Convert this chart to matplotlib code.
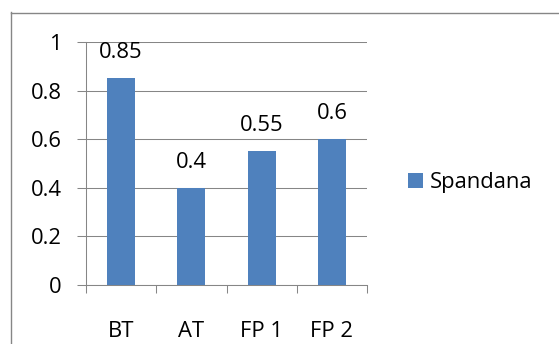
import matplotlib
matplotlib.use("Agg")
import matplotlib.pyplot as plt
from matplotlib.lines import Line2D
import numpy as np

categories = ["BT", "AT", "FP 1", "FP 2"]
values = [0.85, 0.4, 0.55, 0.6]
series_name = "Spandana"
y_ticks = [0, 0.2, 0.4, 0.6, 0.8, 1]
y_tick_labels = ["0", "0.2", "0.4", "0.6", "0.8", "1"]

plt.rcParams["font.family"] = ["Open Sans", "DejaVu Sans"]

W, H = 559, 344
fig = plt.figure(figsize=(W / 100, H / 100), dpi=100)
fig.patch.set_facecolor("white")

gray = "#868686"
bar_color = "#4F81BD"
fs = 15.8

left, right, top, bottom = 86, 367, 42, 285
ax = fig.add_axes([left / W, 1 - bottom / H, (right - left) / W, (bottom - top) / H])

x = np.arange(len(categories))
bars = ax.bar(x, values, width=0.4, color=bar_color, label=series_name, zorder=3)

ax.set_xlim(-0.5, len(categories) - 0.5)
ax.set_ylim(0, 1)
ax.set_yticks(y_ticks)
ax.set_yticklabels(y_tick_labels, fontsize=fs)
ax.set_xticks(x)
ax.set_xticklabels(categories, fontsize=fs)
ax.tick_params(axis="x", length=0, pad=26)
ax.tick_params(axis="y", length=6.5, width=0.75, color=gray, pad=11)

# category boundary ticks below the x axis
ax.set_xticks(np.arange(len(categories) + 1) - 0.5, minor=True)
ax.tick_params(axis="x", which="minor", length=6, width=0.75, color=gray)

ax.grid(axis="y", color=gray, linewidth=0.75, zorder=0)
for side in ["top", "right"]:
    ax.spines[side].set_visible(False)
for side in ["left", "bottom"]:
    ax.spines[side].set_color(gray)
    ax.spines[side].set_linewidth(0.75)

for b, v in zip(bars, values):
    ax.annotate(f"{v:g}", (b.get_x() + b.get_width() / 2, v),
                xytext=(0, 14.5), textcoords="offset points",
                ha="center", va="baseline", fontsize=fs)

fig.legend(handles=[bars], labels=[series_name], loc="center left",
           bbox_to_anchor=(408 / W, 1 - 183 / H), frameon=False,
           fontsize=fs, handlelength=0.7, handleheight=0.7,
           handletextpad=0.3, borderaxespad=0, borderpad=0)

# outer chart border (left and top edges)
fig.add_artist(Line2D([10.5 / W, 10.5 / W], [0, 1 - 12 / H], color=gray,
                      linewidth=1.0, transform=fig.transFigure))
fig.add_artist(Line2D([10.5 / W, 1], [1 - 12.5 / H, 1 - 12.5 / H], color=gray,
                      linewidth=1.0, transform=fig.transFigure))

fig.savefig("out.png", dpi=100)
